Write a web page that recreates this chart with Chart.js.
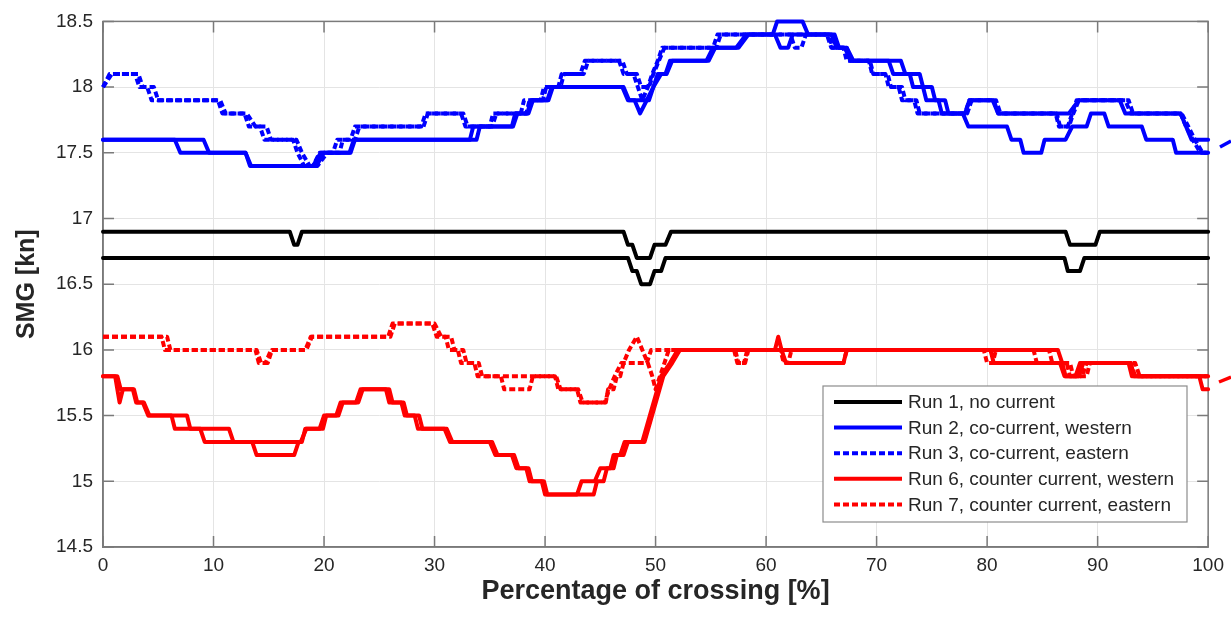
<!DOCTYPE html>
<html>
<head>
<meta charset="utf-8">
<script src="https://cdn.jsdelivr.net/npm/chart.js@4.4.1/dist/chart.umd.min.js"></script>
<style>
html, body { margin: 0; padding: 0; background: #fff; }
#wrap { width: 1231px; height: 621px; }
</style>
</head>
<body>
<div id="wrap"><canvas id="myChart" width="1231" height="621"></canvas></div>
<script>
// Tick values
var xTicks = [0, 10, 20, 30, 40, 50, 60, 70, 80, 90, 100];
var yTicks = [14.5, 15, 15.5, 16, 16.5, 17, 17.5, 18, 18.5];

var legendLabels = ['Run 1, no current', 'Run 2, co-current, western', 'Run 3, co-current, eastern',
    'Run 6, counter current, western', 'Run 7, counter current, eastern'];

// Run 1, no current (two crossings) - [percentage, SMG]
var run1a = [[0,16.9],[16.9,16.9],[17.3,16.8],[17.6,16.8],[18.0,16.9],[47.1,16.9],[47.5,16.8],[47.9,16.8],[48.3,16.7],
    [49.5,16.7],[49.9,16.8],[50.9,16.8],[51.4,16.9],[87.1,16.9],[87.5,16.8],[89.8,16.8],[90.2,16.9],[100,16.9]];
var run1b = [[0,16.7],[47.5,16.7],[47.9,16.6],[48.3,16.6],[48.7,16.5],[49.5,16.5],[49.9,16.6],[50.5,16.6],[50.9,16.7],
    [87.0,16.7],[87.3,16.6],[88.4,16.6],[88.8,16.7],[100,16.7]];

// Run 2, co-current, western
var run2a = [[0,17.6],[6.5,17.6],[7.0,17.5],[12.9,17.5],[13.3,17.4],[19.3,17.4],[20.0,17.5],[22.4,17.5],[22.8,17.6],
    [33.2,17.6],[33.5,17.7],[37.0,17.7],[37.3,17.8],[38.4,17.8],[38.7,17.9],[40.2,17.9],[40.6,18.0],[47.0,18.0],
    [47.5,17.9],[49.4,17.9],[49.8,18.0],[50.2,18.1],[50.9,18.1],[51.3,18.2],[54.6,18.2],[55.2,18.3],[57.3,18.3],
    [58.2,18.4],[60.6,18.4],[61.0,18.5],[63.3,18.5],[63.8,18.4],[65.9,18.4],[66.4,18.3],[67.1,18.3],[67.7,18.2],
    [71.1,18.2],[71.5,18.1],[73.0,18.1],[73.3,18.0],[74.2,18.0],[74.5,17.9],[75.6,17.9],[75.9,17.8],[78.0,17.8],
    [78.4,17.9],[80.5,17.9],[81.0,17.8],[87.4,17.8],[88.3,17.9],[92.0,17.9],[92.5,17.8],[97.5,17.8],[98.0,17.7],
    [98.5,17.6],[100,17.6]];
var run2b = [[0,17.6],[9.1,17.6],[9.6,17.5],[12.9,17.5],[13.4,17.4],[19.0,17.4],[19.7,17.5],[22.3,17.5],[22.7,17.6],
    [33.8,17.6],[34.1,17.7],[37.1,17.7],[37.5,17.8],[38.5,17.8],[38.9,17.9],[40.3,17.9],[40.7,18.0],[47.1,18.0],
    [47.6,17.9],[48.1,17.9],[48.6,17.8],[49.2,17.9],[49.8,18.0],[50.5,18.1],[51.0,18.1],[51.5,18.2],[54.8,18.2],
    [55.4,18.3],[57.5,18.3],[58.4,18.4],[60.8,18.4],[61.3,18.3],[62.0,18.3],[62.4,18.4],[66.2,18.4],[66.6,18.3],
    [67.3,18.3],[67.9,18.2],[72.2,18.2],[72.6,18.1],[73.9,18.1],[74.2,18.0],[75.0,18.0],[75.3,17.9],[76.2,17.9],
    [76.5,17.8],[77.8,17.8],[78.3,17.7],[81.8,17.7],[82.2,17.6],[83.0,17.6],[83.3,17.5],[84.9,17.5],[85.2,17.6],
    [87.1,17.6],[87.7,17.7],[89.0,17.7],[89.4,17.8],[90.6,17.8],[91.0,17.7],[94.0,17.7],[94.4,17.6],[96.8,17.6],
    [97.1,17.5],[100,17.5]];

// Run 3, co-current, eastern
var run3a = [[0,18.0],[0.6,18.1],[2.9,18.1],[3.3,18.0],[4.0,18.0],[4.4,17.9],[10.4,17.9],[10.8,17.8],[12.8,17.8],
    [13.2,17.7],[14.2,17.7],[14.6,17.6],[17.2,17.6],[17.6,17.5],[18.2,17.4],[19.0,17.4],[19.6,17.5],[20.8,17.5],
    [21.2,17.6],[22.4,17.6],[22.8,17.7],[28.8,17.7],[29.2,17.8],[32.4,17.8],[32.8,17.7],[35.2,17.7],[35.6,17.8],
    [38.3,17.8],[38.6,17.9],[39.8,17.9],[40.1,18.0],[41.2,18.0],[41.5,18.1],[43.2,18.1],[43.6,18.2],[46.7,18.2],
    [47.1,18.1],[48.0,18.1],[48.4,18.0],[48.8,17.9],[49.3,18.0],[49.7,18.1],[50.2,18.2],[50.6,18.3],[55.2,18.3],
    [55.6,18.4],[65.7,18.4],[66.0,18.3],[67.0,18.3],[67.3,18.2],[69.3,18.2],[69.6,18.1],[70.8,18.1],[71.1,18.0],
    [72.0,18.0],[72.3,17.9],[73.4,17.9],[73.7,17.8],[78.0,17.8],[78.4,17.9],[80.6,17.9],[81.0,17.8],[86.2,17.8],
    [86.5,17.7],[87.3,17.7],[87.7,17.8],[88.1,17.9],[92.5,17.9],[93.0,17.8],[97.6,17.8],[98.2,17.7],[98.8,17.6],
    [99.5,17.5],[100,17.5]];
var run3b = [[0,18.0],[0.8,18.1],[3.2,18.1],[3.6,18.0],[4.6,18.0],[5.0,17.9],[10.6,17.9],[11.1,17.8],[13.0,17.8],
    [13.8,17.7],[14.8,17.7],[15.2,17.6],[17.5,17.6],[18.0,17.5],[18.7,17.4],[19.4,17.4],[20.3,17.5],[21.4,17.5],
    [21.7,17.6],[22.8,17.6],[23.2,17.7],[29.0,17.7],[29.4,17.8],[32.6,17.8],[33.0,17.7],[35.0,17.7],[35.3,17.8],
    [37.8,17.8],[38.1,17.9],[39.6,17.9],[39.9,18.0],[41.4,18.0],[41.7,18.1],[43.5,18.1],[43.9,18.2],[47.0,18.2],
    [47.4,18.1],[48.3,18.1],[48.7,18.0],[49.4,18.0],[49.8,18.1],[50.3,18.2],[50.8,18.3],[55.5,18.3],[55.9,18.4],
    [62.2,18.4],[62.6,18.3],[63.2,18.3],[63.6,18.4],[65.5,18.4],[65.9,18.3],[67.3,18.3],[67.6,18.2],[69.4,18.2],
    [69.7,18.1],[71.0,18.1],[71.3,18.0],[72.3,18.0],[72.6,17.9],[73.6,17.9],[73.9,17.8],[78.2,17.8],[78.6,17.9],
    [80.8,17.9],[81.2,17.8],[86.3,17.8],[86.6,17.7],[87.4,17.7],[87.8,17.8],[88.3,17.9],[92.8,17.9],[93.2,17.8],
    [97.5,17.8],[98.0,17.7],[98.6,17.6],[99.3,17.5],[100,17.5]];

// Run 6, counter current, western
var run6a = [[0,15.8],[1.1,15.8],[1.3,15.7],[1.5,15.6],[1.8,15.7],[2.7,15.7],[3.0,15.6],[3.6,15.6],[4.1,15.5],
    [6.2,15.5],[6.5,15.4],[8.8,15.4],[9.2,15.3],[13.5,15.3],[13.9,15.2],[17.3,15.2],[17.7,15.3],[18.0,15.3],
    [18.3,15.4],[19.6,15.4],[20.0,15.5],[21.1,15.5],[21.5,15.6],[22.9,15.6],[23.3,15.7],[25.6,15.7],[25.9,15.6],
    [27.0,15.6],[27.3,15.5],[28.2,15.5],[28.5,15.4],[30.9,15.4],[31.4,15.3],[35.0,15.3],[35.5,15.2],[37.0,15.2],
    [37.4,15.1],[38.3,15.1],[38.6,15.0],[39.7,15.0],[40.0,14.9],[42.9,14.9],[43.3,15.0],[44.5,15.0],[45.0,15.1],
    [45.9,15.1],[46.2,15.2],[46.8,15.2],[47.2,15.3],[48.8,15.3],[50.5,15.8],[51.3,15.9],[52.0,16.0],[60.8,16.0],
    [61.1,16.1],[61.4,16.0],[61.8,15.9],[67.0,15.9],[67.3,16.0],[86.4,16.0],[86.8,15.9],[87.1,15.8],[88.3,15.8],
    [88.7,15.9],[93.0,15.9],[93.3,15.8],[99.2,15.8],[99.5,15.7],[100,15.7]];
var run6b = [[0,15.8],[1.3,15.8],[1.6,15.7],[2.8,15.7],[3.1,15.6],[3.7,15.6],[4.2,15.5],[7.6,15.5],[7.9,15.4],
    [11.4,15.4],[11.8,15.3],[17.9,15.3],[18.4,15.4],[19.9,15.4],[20.2,15.5],[21.3,15.5],[21.7,15.6],[23.1,15.6],
    [23.5,15.7],[25.9,15.7],[26.2,15.6],[27.2,15.6],[27.5,15.5],[28.6,15.5],[28.9,15.4],[31.1,15.4],[31.6,15.3],
    [35.2,15.3],[35.7,15.2],[37.2,15.2],[37.6,15.1],[38.5,15.1],[38.8,15.0],[39.9,15.0],[40.2,14.9],[44.4,14.9],
    [44.7,15.0],[45.3,15.0],[45.6,15.1],[46.2,15.1],[46.5,15.2],[47.1,15.2],[47.5,15.3],[49.0,15.3],[50.7,15.8],
    [51.5,15.9],[52.2,16.0],[80.3,16.0],[80.6,15.9],[86.6,15.9],[87.0,15.8],[88.0,15.8],[88.4,15.9],[92.8,15.9],
    [93.1,15.8],[100,15.8]];

// Run 7, counter current, eastern
var run7a = [[0,16.1],[5.3,16.1],[5.6,16.0],[13.8,16.0],[14.1,15.9],[14.7,15.9],[15.2,16.0],[18.3,16.0],[18.8,16.1],
    [25.8,16.1],[26.2,16.2],[29.8,16.2],[30.2,16.1],[31.0,16.1],[31.3,16.0],[32.1,16.0],[32.4,15.9],[33.6,15.9],
    [33.9,15.8],[36.0,15.8],[36.3,15.7],[38.6,15.7],[38.9,15.8],[40.9,15.8],[41.2,15.7],[42.9,15.7],[43.2,15.6],
    [45.5,15.6],[45.7,15.7],[46.2,15.7],[46.5,15.8],[46.8,15.8],[47.1,15.9],[47.6,16.0],[48.3,16.1],[48.8,16.0],
    [49.3,15.9],[49.7,15.8],[50.0,15.7],[50.4,15.8],[50.8,15.9],[51.2,16.0],[57.1,16.0],[57.4,15.9],[58.0,15.9],
    [58.3,16.0],[61.3,16.0],[61.6,15.9],[62.0,15.9],[62.3,16.0],[79.7,16.0],[80.0,15.9],[80.5,15.9],[80.8,16.0],
    [84.2,16.0],[84.5,15.9],[87.2,15.9],[87.5,15.8],[88.6,15.8],[89.0,15.9],[93.0,15.9],[93.4,15.8],[100,15.8]];
var run7b = [[0,16.1],[5.8,16.1],[6.1,16.0],[13.9,16.0],[14.3,15.9],[14.9,15.9],[15.3,16.0],[18.4,16.0],[18.9,16.1],
    [26.0,16.1],[26.4,16.2],[30.0,16.2],[30.6,16.1],[31.5,16.1],[31.8,16.0],[32.6,16.0],[32.9,15.9],[34.0,15.9],
    [34.3,15.8],[41.0,15.8],[41.4,15.7],[43.0,15.7],[43.4,15.6],[45.4,15.6],[45.8,15.7],[46.3,15.8],[46.9,15.9],
    [49.2,15.9],[49.6,16.0],[57.2,16.0],[57.5,15.9],[58.1,15.9],[58.4,16.0],[61.4,16.0],[61.7,15.9],[67.0,15.9],
    [67.3,16.0],[85.6,16.0],[85.9,15.9],[87.5,15.9],[87.8,15.8],[89.0,15.8],[89.3,15.9],[93.4,15.9],[93.8,15.8],
    [100,15.8]];

var fontFam = '"Liberation Sans", Arial, Helvetica, sans-serif';
var textColor = '#262626';
var BLACK = '#000000', BLUE = '#0000ff', RED = '#ff0000';
var DASH = [6, 3];

function makeLine(pts, color, dashed, i) {
    return {
        data: pts.map(function (p) { return { x: p[0], y: p[1] }; }),
        borderColor: color,
        borderWidth: 4,
        borderDash: dashed ? DASH : [],
        borderJoinStyle: 'round',
        borderCapStyle: dashed ? 'butt' : 'round',
        pointRadius: 0,
        tension: 0,
        fill: false,
        clip: 6,
        order: -i // later runs drawn on top
    };
}

var lines = [
    [run1a, BLACK, false], [run1b, BLACK, false],
    [run2a, BLUE, false], [run2b, BLUE, false],
    [run3a, BLUE, true], [run3b, BLUE, true],
    [run6a, RED, false], [run6b, RED, false],
    [run7a, RED, true], [run7b, RED, true]
];
var datasets = lines.map(function (l, i) { return makeLine(l[0], l[1], l[2], i); });

// legend styles, one per run
var legendStyles = [[BLACK, false], [BLUE, false], [BLUE, true], [RED, false], [RED, true]];

// box, inward ticks and the in-plot legend (MATLAB look)
var matlabPlugin = {
    id: 'matlabBox',
    beforeDatasetsDraw: function (chart) {
        var ctx = chart.ctx, a = chart.chartArea;
        var xs = chart.scales.x, ys = chart.scales.y;
        ctx.save();
        ctx.strokeStyle = '#7a7a7a';
        ctx.lineWidth = 1.5;
        ctx.beginPath();
        xTicks.forEach(function (v) {
            var px = xs.getPixelForValue(v);
            ctx.moveTo(px, a.bottom); ctx.lineTo(px, a.bottom - 11);
            ctx.moveTo(px, a.top); ctx.lineTo(px, a.top + 11);
        });
        yTicks.forEach(function (v) {
            var py = ys.getPixelForValue(v);
            ctx.moveTo(a.left, py); ctx.lineTo(a.left + 11, py);
            ctx.moveTo(a.right, py); ctx.lineTo(a.right - 11, py);
        });
        ctx.stroke();
        ctx.strokeRect(a.left, a.top, a.right - a.left, a.bottom - a.top);
        ctx.restore();
    },
    afterDraw: function (chart) {
        var ctx = chart.ctx;
        ctx.save();
        // stray pointer marks right of the plot
        ctx.lineWidth = 3.5;
        ctx.strokeStyle = BLUE;
        ctx.beginPath(); ctx.moveTo(1220, 147); ctx.lineTo(1231, 141); ctx.stroke();
        ctx.strokeStyle = RED;
        ctx.beginPath(); ctx.moveTo(1219, 382); ctx.lineTo(1231, 377); ctx.stroke();

        // legend box
        var bx = 823, by = 386, bw = 364, bh = 136;
        ctx.fillStyle = '#ffffff';
        ctx.fillRect(bx, by, bw, bh);
        ctx.strokeStyle = '#8c8c8c';
        ctx.lineWidth = 1.2;
        ctx.strokeRect(bx, by, bw, bh);
        ctx.font = '19px ' + fontFam;
        ctx.textBaseline = 'middle';
        ctx.textAlign = 'left';
        for (var i = 0; i < legendLabels.length; i++) {
            var yy = by + 16 + i * 25.6;
            ctx.strokeStyle = legendStyles[i][0];
            ctx.lineWidth = 4;
            ctx.setLineDash(legendStyles[i][1] ? DASH : []);
            ctx.beginPath(); ctx.moveTo(834, yy); ctx.lineTo(902, yy); ctx.stroke();
            ctx.setLineDash([]);
            ctx.fillStyle = textColor;
            ctx.fillText(legendLabels[i], 908, yy + 1);
        }
        ctx.restore();
    }
};

var ctx = document.getElementById('myChart');
var chart = new Chart(ctx, {
    type: 'line',
    data: { datasets: datasets },
    plugins: [matlabPlugin],
    options: {
        responsive: false,
        animation: false,
        devicePixelRatio: 1,
        layout: { padding: { top: 13, right: 22, left: 0, bottom: 0 } },
        plugins: { legend: { display: false }, tooltip: { enabled: false } },
        scales: {
            x: {
                type: 'linear', min: 0, max: 100,
                afterBuildTicks: function (s) { s.ticks = xTicks.map(function (v) { return { value: v }; }); },
                afterFit: function (s) { s.height = 74; },
                grid: { color: '#e4e4e4', lineWidth: 1, drawTicks: false },
                border: { display: true, color: '#7a7a7a', width: 1.5 },
                ticks: { padding: 7, maxRotation: 0, autoSkip: false, color: textColor, font: { family: fontFam, size: 19 } },
                title: { display: true, text: 'Percentage of crossing [%]', color: textColor,
                    font: { family: fontFam, size: 27, weight: 'bold' }, padding: { top: 0, bottom: 13 } }
            },
            y: {
                type: 'linear', min: 14.5, max: 18.5,
                afterBuildTicks: function (s) { s.ticks = yTicks.map(function (v) { return { value: v }; }); },
                afterFit: function (s) { s.width = 103; },
                grid: { color: '#e4e4e4', lineWidth: 1, drawTicks: false },
                border: { display: true, color: '#7a7a7a', width: 1.5 },
                ticks: { padding: 10, color: textColor, font: { family: fontFam, size: 19 },
                    callback: function (v) { return String(Math.round(v * 10) / 10); } },
                title: { display: true, text: 'SMG [kn]', color: textColor,
                    font: { family: fontFam, size: 25, weight: 'bold' }, padding: { top: 12, bottom: 0 } }
            }
        }
    }
});
</script>
</body>
</html>
